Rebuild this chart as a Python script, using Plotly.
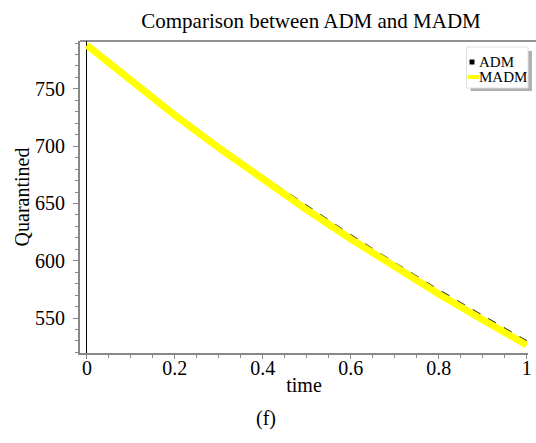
import plotly.graph_objects as go

time = [0.0, 0.1, 0.2, 0.3, 0.4, 0.5, 0.6, 0.7, 0.8, 0.9, 1.0]
madm = [788.0, 757.0, 727.0, 698.5, 671.0, 644.5, 619.0, 594.5, 571.0, 548.5, 526.5]
adm = [788.0, 757.3, 727.9, 700.3, 673.6, 647.6, 622.3, 597.9, 574.4, 551.9, 529.8]
series_names = ["ADM", "MADM"]

FONT = "Liberation Serif, Times New Roman, serif"

L, R, T, B = 80, 532, 41, 353
W, H = R - L, B - T


def px(x):
    return (x - L) / W


def py(y):
    return (B - y) / H


fig = go.Figure()
fig.add_trace(go.Scatter(x=time, y=adm, mode="lines", name=series_names[0],
                         line=dict(color="#333333", width=2, dash="dash")))
fig.add_trace(go.Scatter(x=time, y=madm, mode="lines", name=series_names[1],
                         line=dict(color="#ffff00", width=7)))

fig.update_layout(
    width=536, height=443,
    margin=dict(l=L, r=536 - R, t=T, b=443 - B),
    paper_bgcolor="white", plot_bgcolor="white",
    showlegend=False,
    font=dict(family=FONT, size=20, color="black"),
    title=dict(text="Comparison between ADM and MADM", x=311 / 536, xanchor="center",
               y=1 - 21 / 443, yanchor="middle", font=dict(family=FONT, size=21)),
    xaxis=dict(range=[-0.0157, 1.003], tickvals=[0, 0.2, 0.4, 0.6, 0.8, 1],
               ticktext=["0", "0.2", "0.4", "0.6", "0.8", "1"],
               ticks="outside", ticklen=4, tickcolor="#888888", tickwidth=1,
               minor=dict(dtick=0.05, ticks="outside", ticklen=3, tickcolor="#888888"),
               showline=True, linecolor="#888888", linewidth=2,
               tickfont=dict(size=20), ticklabelstandoff=-8,
               showgrid=False, zeroline=True, zerolinecolor="black", zerolinewidth=1,
               title=dict(text="time", standoff=0, font=dict(size=20))),
    yaxis=dict(range=[519.5, 791.8], tickvals=[550, 600, 650, 700, 750],
               ticks="outside", ticklen=5, tickcolor="#888888", tickwidth=1,
               minor=dict(dtick=10, ticks="outside", ticklen=3, tickcolor="#888888"),
               showline=True, linecolor="#888888", linewidth=2,
               tickfont=dict(size=20), ticklabelstandoff=4,
               showgrid=False, zeroline=False,
               title=dict(text="Quarantined", standoff=0, font=dict(size=20))),
)

# top border line
fig.add_shape(type="line", xref="paper", yref="paper", x0=0, x1=1.02, y0=1, y1=1,
              line=dict(color="#222222", width=1))

# legend: shadow, box, symbols, labels
fig.add_shape(type="rect", xref="paper", yref="paper",
              x0=px(474), x1=px(536), y0=py(91), y1=py(51),
              line=dict(width=0), fillcolor="#b0b0b0", layer="above")
fig.add_shape(type="rect", xref="paper", yref="paper",
              x0=px(470), x1=px(532), y0=py(88), y1=py(47),
              line=dict(width=1, color="#e0e0e0"), fillcolor="white", layer="above")
fig.add_shape(type="rect", xref="paper", yref="paper",
              x0=px(473), x1=px(478), y0=py(64.5), y1=py(59.5),
              line=dict(width=0), fillcolor="black", layer="above")
fig.add_shape(type="rect", xref="paper", yref="paper",
              x0=px(471), x1=px(483), y0=py(79), y1=py(75),
              line=dict(width=0), fillcolor="#ffff00", layer="above")
for name, yc in zip(series_names, [62, 77]):
    fig.add_annotation(xref="paper", yref="paper", x=px(482), xanchor="left",
                       y=py(yc), yanchor="middle", showarrow=False, text=name,
                       height=14, borderpad=0,
                       font=dict(family=FONT, size=15, color="black"))

fig.add_annotation(xref="paper", yref="paper", x=px(268), y=py(418),
                   text="(f)", showarrow=False, xanchor="center", yanchor="middle",
                   font=dict(family=FONT, size=20, color="black"))

fig.write_html("out.html")
